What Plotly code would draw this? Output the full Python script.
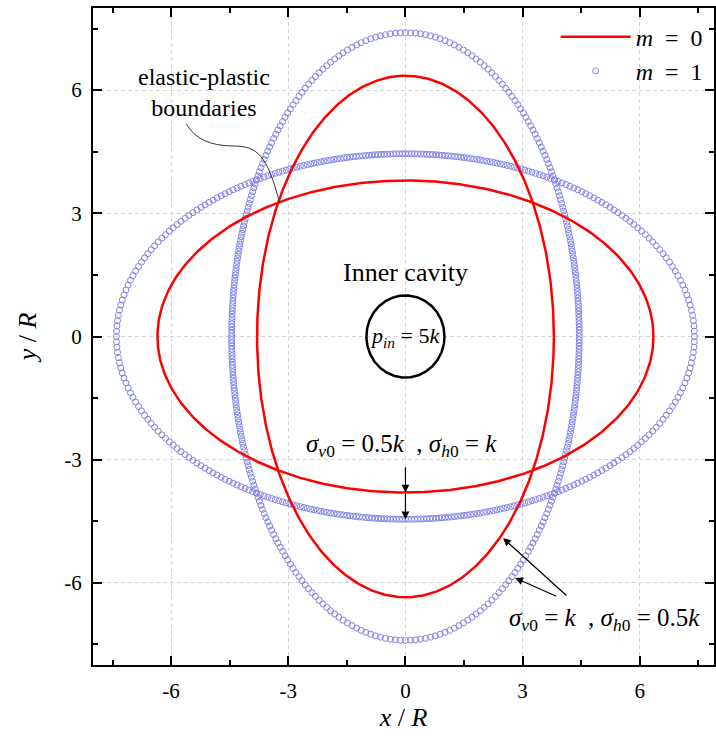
import numpy as np
import plotly.graph_objects as go

# Semi-axes (x, y) of the elastic-plastic boundaries, in units of R
m0_horizontal = [6.35, 3.80]   # sigma_v0 = 0.5k, sigma_h0 = k
m0_vertical = [3.80, 6.35]     # sigma_v0 = k, sigma_h0 = 0.5k
m1_horizontal = [7.40, 4.45]
m1_vertical = [4.45, 7.40]
cavity_radius = 1.0

tick_vals = [-6, -3, 0, 3, 6]
tick_text = ["-6", "-3", "0", "3", "6"]

FONT = "Liberation Serif"
RED = "#ff0000"
BLUE = "#8080e8"


def ellipse(ax, by, n=360):
    # polar-angle sampling, one point per degree
    th = np.deg2rad(np.arange(n + 1) * 360.0 / n)
    r = ax * by / np.sqrt((by * np.cos(th)) ** 2 + (ax * np.sin(th)) ** 2)
    return r * np.cos(th), r * np.sin(th)


fig = go.Figure()

for i, (a, b) in enumerate([m1_horizontal, m1_vertical]):
    x, y = ellipse(a, b)
    fig.add_trace(go.Scatter(
        x=x[:-1], y=y[:-1], mode="markers", name="<i>m</i>  =  1",
        marker=dict(symbol="circle-open", size=6, color=BLUE, line=dict(width=1, color=BLUE)),
        showlegend=(i == 0), legendrank=2,
    ))

for i, (a, b) in enumerate([m0_horizontal, m0_vertical]):
    x, y = ellipse(a, b, 720)
    fig.add_trace(go.Scatter(
        x=x, y=y, mode="lines", name="<i>m</i>  =  0",
        line=dict(color=RED, width=2.5),
        showlegend=(i == 0), legendrank=1,
    ))

cx, cy = ellipse(cavity_radius, cavity_radius, 360)
fig.add_trace(go.Scatter(x=cx, y=cy, mode="lines", line=dict(color="black", width=2.5),
                         showlegend=False, hoverinfo="skip"))

axis_common = dict(
    showgrid=True, gridcolor="#d4d4d4", griddash="4px,3px", gridwidth=1,
    zeroline=False, showline=True, linecolor="black", linewidth=2, mirror="allticks",
    ticks="inside", ticklen=9, tickwidth=1.5, tickcolor="black",
    tickvals=tick_vals, ticktext=tick_text,
    tickfont=dict(family=FONT, size=21, color="black"),
    minor=dict(ticks="inside", ticklen=5, tickwidth=1.5, tickcolor="black", dtick=1.5,
               tick0=0, showgrid=False),
)

fig.update_xaxes(range=[-8, 7.9], ticklabelstandoff=6,
                 title=dict(text="<i>x</i> / <i>R</i>", font=dict(family=FONT, size=26), standoff=4),
                 **axis_common)
fig.update_yaxes(range=[-8, 8], ticklabelstandoff=5,
                 title=dict(text="<i>y</i> / <i>R</i>", font=dict(family=FONT, size=26), standoff=20),
                 **axis_common)

ann_font = dict(family=FONT, size=25, color="black")
annotations = [
    dict(x=-5.15, y=5.95, text="elastic-plastic<br>boundaries", showarrow=False,
         font=dict(family=FONT, size=24, color="black"), align="center"),
    dict(x=0, y=1.57, text="Inner cavity", showarrow=False, font=dict(family=FONT, size=26, color="black")),
    dict(x=0, y=0, text="<i>p</i><sub><i>in</i></sub> = 5<i>k</i>", showarrow=False,
         font=dict(family=FONT, size=22, color="black")),
    dict(x=-0.1, y=-2.65,
         text="<i>σ</i><sub><i>v</i>0</sub> = 0.5<i>k</i>  , <i>σ</i><sub><i>h</i>0</sub> = <i>k</i>",
         showarrow=False, font=ann_font),
    dict(x=5.1, y=-6.9,
         text="<i>σ</i><sub><i>v</i>0</sub> = <i>k</i>  , <i>σ</i><sub><i>h</i>0</sub> = 0.5<i>k</i>",
         showarrow=False, font=ann_font),
]

# arrows pointing at the boundaries
arrow_style = dict(showarrow=True, arrowhead=2, arrowsize=1.3, arrowwidth=1.2, arrowcolor="black",
                   axref="x", ayref="y", text="")
annotations += [
    dict(x=0, y=-m0_horizontal[1], ax=0, ay=-3.15, **arrow_style),
    dict(x=0, y=-m1_horizontal[1], ax=0, ay=-3.8, **arrow_style),
    dict(x=2.5, y=-4.91, ax=4.16, ay=-6.34, **arrow_style),
    dict(x=2.81, y=-5.88, ax=3.9, ay=-6.34, **arrow_style),
]

shapes = [
    dict(type="path", xref="x", yref="y",
         path="M -5.61,5.18 Q -5.3,4.64 -4.4,4.64 C -3.8,4.63 -3.55,4.45 -3.22,3.25",
         line=dict(color="#333333", width=1)),
]

fig.update_layout(
    width=716, height=738,
    margin=dict(l=93, r=0, t=8, b=73),
    plot_bgcolor="white", paper_bgcolor="white",
    font=dict(family=FONT, color="black"),
    annotations=annotations, shapes=shapes,
    legend=dict(x=0.745, y=0.99, xanchor="left", yanchor="top", bgcolor="rgba(0,0,0,0)",
                font=dict(family=FONT, size=24), itemwidth=70, tracegroupgap=0),
    showlegend=True,
)

fig.write_html("out.html")
